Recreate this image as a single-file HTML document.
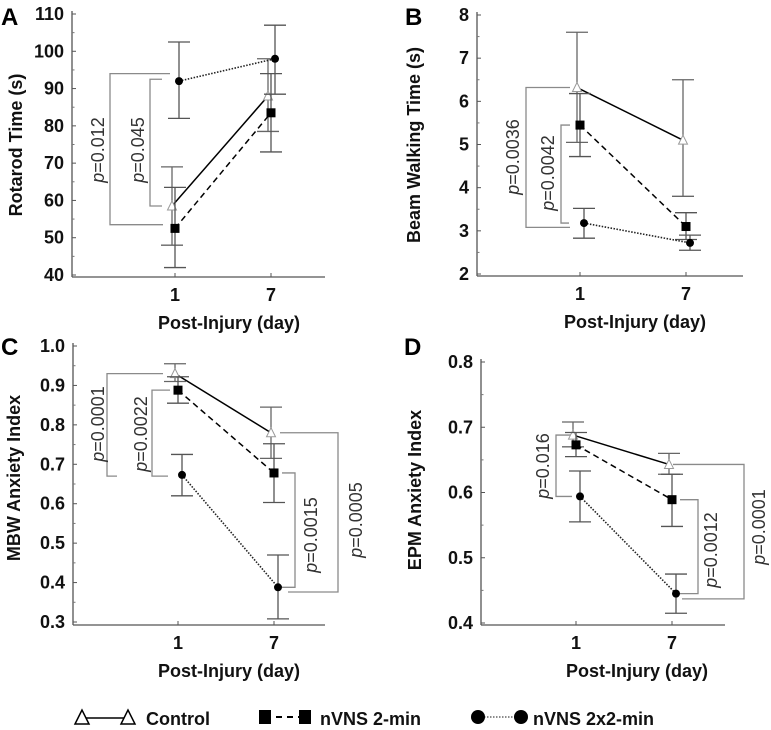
<!DOCTYPE html>
<html><head><meta charset="utf-8"><style>
html,body{margin:0;padding:0;background:#fff;}
svg{display:block;font-family:"Liberation Sans",Arial,sans-serif;}
.tl{font-size:18px;font-weight:bold;fill:#111;}
.at{font-size:18px;font-weight:bold;fill:#111;}
.pl{font-size:18px;fill:#333;}
.pn{font-size:24px;font-weight:bold;fill:#000;}
</style></head><body>
<svg id="fig" width="771" height="730" viewBox="0 0 771 730" xmlns="http://www.w3.org/2000/svg">
<g id="legend">
  <g>
    <line x1="82" y1="718" x2="128" y2="718" stroke="#000" stroke-width="1.5"/>
    <polygon points="82,710 75,724 89,724" fill="#fff" stroke="#000" stroke-width="1.5"/>
    <polygon points="128,710 121,724 135,724" fill="#fff" stroke="#000" stroke-width="1.5"/>
    <text x="146" y="725" class="at">Control</text>
  </g>
  <g>
    <line x1="265" y1="717" x2="305" y2="717" stroke="#000" stroke-width="2" stroke-dasharray="6,5"/>
    <rect x="259" y="710" width="12" height="14" fill="#000"/>
    <rect x="299" y="710" width="12" height="14" fill="#000"/>
    <text x="320" y="725" class="at">nVNS 2-min</text>
  </g>
  <g>
    <line x1="478" y1="717" x2="521" y2="717" stroke="#666" stroke-width="1.5" stroke-dasharray="1.5,1.5"/>
    <circle cx="478" cy="717" r="7" fill="#000"/>
    <circle cx="521" cy="717" r="7" fill="#000"/>
    <text x="533" y="725" class="at">nVNS 2x2-min</text>
  </g>
</g>
</svg>
<script>
// ---- Panel A: Rotarod ----
const aTicks = [40,50,60,70,80,90,100,110];
const aControl = [58.5, 88];
const aControlErr = [[48,69],[78.5,98]];
const aN2 = [52.5, 83.5];
const aN2Err = [[42,63.5],[73,94]];
const aN22 = [92, 98];
const aN22Err = [[82,102.5],[88.5,107]];
// ---- Panel B: Beam walking ----
const bTicks = [2,3,4,5,6,7,8];
const bControl = [6.32, 5.1];
const bControlErr = [[5.05,7.6],[3.8,6.5]];
const bN2 = [5.45, 3.1];
const bN2Err = [[4.72,6.18],[2.8,3.42]];
const bN22 = [3.18, 2.72];
const bN22Err = [[2.83,3.52],[2.55,2.9]];
// ---- Panel C: MBW ----
const cTicks = [0.3,0.4,0.5,0.6,0.7,0.8,0.9,1.0];
const cControl = [0.93, 0.78];
const cControlErr = [[0.91,0.955],[0.715,0.845]];
const cN2 = [0.888, 0.678];
const cN2Err = [[0.855,0.922],[0.603,0.752]];
const cN22 = [0.673, 0.388];
const cN22Err = [[0.62,0.725],[0.308,0.47]];
// ---- Panel D: EPM ----
const dTicks = [0.4,0.5,0.6,0.7,0.8];
const dControl = [0.688, 0.643];
const dControlErr = [[0.67,0.708],[0.628,0.66]];
const dN2 = [0.673, 0.589];
const dN2Err = [[0.655,0.692],[0.548,0.628]];
const dN22 = [0.594, 0.445];
const dN22Err = [[0.555,0.633],[0.415,0.475]];
const xCats = ["1","7"];

const NS="http://www.w3.org/2000/svg";
const fig=document.getElementById('fig');
function mk(tag,attrs,parent){const e=document.createElementNS(NS,tag);for(const k in attrs)e.setAttribute(k,attrs[k]);(parent||fig).appendChild(e);return e;}

function panel(cfg){
  const g=mk('g',{});
  
  
  const t=cfg.ticks, lo=t[0], hi=t[t.length-1];
  const y=v=>cfg.yTop+(hi-v)/(hi-lo)*(cfg.yBot-cfg.yTop);
  const xd=[cfg.x1,cfg.x7];
  const ya=mk('line',{x1:cfg.ax,y1:cfg.yTop-3,x2:cfg.ax,y2:cfg.xAxisY,stroke:'#555','stroke-width':1.3},g);
  
  
  const xa=mk('line',{x1:cfg.ax,y1:cfg.xAxisY,x2:cfg.xr,y2:cfg.xAxisY,stroke:'#555','stroke-width':1.3},g);
  
  
  t.forEach((v,i)=>{
    mk('line',{x1:cfg.ax,y1:y(v),x2:cfg.ax+4,y2:y(v),stroke:'#555','stroke-width':1},g);
    if(i<t.length-1){const m=(v+t[i+1])/2;mk('line',{x1:cfg.ax,y1:y(m),x2:cfg.ax+2.5,y2:y(m),stroke:'#777','stroke-width':1},g);}
    const tx=mk('text',{x:cfg.ax-8,y:y(v)+6,'text-anchor':'end',class:'tl'},g);
    tx.textContent=cfg.fmt(v);
    
    
  });
  xCats.forEach((c,i)=>{
    mk('line',{x1:xd[i],y1:cfg.xAxisY,x2:xd[i],y2:cfg.xAxisY-4,stroke:'#555'},g);
    const tx=mk('text',{x:xd[i],y:cfg.xAxisY+24,'text-anchor':'middle',class:'tl'},g);
    tx.textContent=c;
    
    
  });
  const xt=mk('text',{x:cfg.xtx,y:cfg.xAxisY+52,'text-anchor':'middle',class:'at'},g);
  xt.textContent='Post-Injury (day)';
  
  
  const yt=mk('text',{x:0,y:0,'text-anchor':'middle',class:'at',transform:`translate(${cfg.ytx},${cfg.yty}) rotate(-90)`},g);
  yt.textContent=cfg.ytitle;
  
  
  const pl=mk('text',{x:cfg.plx,y:cfg.ply,class:'pn'},g);
  pl.textContent=cfg.id.toUpperCase();
  
  
  cfg.brackets.forEach(b=>{
    const bg=mk('g',{},g);
    
    
    mk('polyline',{points:`${b.e1},${y(b.v1)} ${b.vx},${y(b.v1)} ${b.vx},${y(b.v2)} ${b.e2},${y(b.v2)}`,fill:'none',stroke:'#8a8a8a','stroke-width':1.3},bg);
    const tx=mk('text',{x:0,y:0,'text-anchor':'middle',class:'pl',transform:`translate(${b.lx},${b.ly}) rotate(-90)`},bg);
    const ti=mk('tspan',{'font-style':'italic'},tx);ti.textContent='p';
    const tr=mk('tspan',{},tx);tr.textContent='='+b.label;
  });
  const series=[
    {name:'control',vals:cfg.c,err:cfg.ce,off:-3,dash:null,col:'#000',mark:'tri',ecol:'#666'},
    {name:'nvns-2min',vals:cfg.n2,err:cfg.n2e,off:0,dash:'6,4',col:'#000',mark:'sq',ecol:'#555'},
    {name:'nvns-2x2min',vals:cfg.n22,err:cfg.n22e,off:4,dash:'1.5,1.5',col:'#222',mark:'ci',ecol:'#555'}
  ];
  series.forEach(s=>{
    const sg=mk('g',{},g);
    
    
    const px=i=>xd[i]+s.off;
    s.err.forEach((e,i)=>{
      const eg=mk('g',{stroke:s.ecol,'stroke-width':1.3},sg);
      
      
      mk('line',{x1:px(i),y1:y(e[0]),x2:px(i),y2:y(e[1])},eg);
      mk('line',{x1:px(i)-11,y1:y(e[0]),x2:px(i)+11,y2:y(e[0])},eg);
      mk('line',{x1:px(i)-11,y1:y(e[1]),x2:px(i)+11,y2:y(e[1])},eg);
    });
    const ln=mk('line',{x1:px(0),y1:y(s.vals[0]),x2:px(1),y2:y(s.vals[1]),stroke:s.col,'stroke-width':s.mark==='ci'?1.6:1.5},sg);
    if(s.dash)ln.setAttribute('stroke-dasharray',s.dash);
    
    
    s.vals.forEach((v,i)=>{
      let m;const X=px(i),Y=y(v);
      if(s.mark==='tri')m=mk('polygon',{points:`${X},${Y-5} ${X-4.5},${Y+4} ${X+4.5},${Y+4}`,fill:'#fff',stroke:'#999','stroke-width':1},sg);
      else if(s.mark==='sq')m=mk('rect',{x:X-4.5,y:Y-4.5,width:9,height:9,fill:'#000'},sg);
      else m=mk('circle',{cx:X,cy:Y,r:4,fill:'#000'},sg);
      
      
    });
  });
}

panel({id:'a',ticks:aTicks,fmt:v=>String(v),yTop:14,yBot:275,xAxisY:277,ax:72,xr:325,x1:175,x7:271,
  c:aControl,ce:aControlErr,n2:aN2,n2e:aN2Err,n22:aN22,n22e:aN22Err,
  ytitle:'Rotarod Time (s)',ytx:22,yty:145,xtx:229,plx:1,ply:25,
  brackets:[{v1:94,v2:53.5,vx:110,e1:170,e2:163,label:'0.012',lx:104,ly:150},
            {v1:92.5,v2:58.5,vx:150,e1:162,e2:162,label:'0.045',lx:144,ly:150}]});
panel({id:'b',ticks:bTicks,fmt:v=>String(v),yTop:15,yBot:274,xAxisY:276,ax:477,xr:743,x1:580,x7:686,
  c:bControl,ce:bControlErr,n2:bN2,n2e:bN2Err,n22:bN22,n22e:bN22Err,
  ytitle:'Beam Walking Time (s)',ytx:420,yty:145,xtx:635,plx:405,ply:25,
  brackets:[{v1:6.32,v2:3.08,vx:526,e1:570,e2:570,label:'0.0036',lx:519,ly:157},
            {v1:5.45,v2:3.18,vx:561,e1:570,e2:569,label:'0.0042',lx:554,ly:173}]});
panel({id:'c',ticks:cTicks,fmt:v=>v.toFixed(1),yTop:346,yBot:622,xAxisY:625,ax:73,xr:325,x1:178,x7:274,
  c:cControl,ce:cControlErr,n2:cN2,n2e:cN2Err,n22:cN22,n22e:cN22Err,
  ytitle:'MBW Anxiety Index',ytx:20,yty:478,xtx:229,plx:1,ply:355,
  brackets:[{v1:0.93,v2:0.67,vx:107,e1:163,e2:117,label:'0.0001',lx:104,ly:424},
            {v1:0.888,v2:0.67,vx:152,e1:170,e2:168,label:'0.0022',lx:147,ly:434},
            {v1:0.678,v2:0.388,vx:295,e1:282,e2:282,label:'0.0015',lx:317,ly:535},
            {v1:0.78,v2:0.376,vx:338,e1:280,e2:288,label:'0.0005',lx:362,ly:520}]});
panel({id:'d',ticks:dTicks,fmt:v=>v.toFixed(1),yTop:362,yBot:623,xAxisY:625,ax:481,xr:725,x1:576,x7:672,
  c:dControl,ce:dControlErr,n2:dN2,n2e:dN2Err,n22:dN22,n22e:dN22Err,
  ytitle:'EPM Anxiety Index',ytx:421,yty:490,xtx:637,plx:404,ply:355,
  brackets:[{v1:0.688,v2:0.594,vx:556,e1:572,e2:572,label:'0.016',lx:549,ly:466},
            {v1:0.589,v2:0.445,vx:698,e1:680,e2:680,label:'0.0012',lx:717,ly:550},
            {v1:0.643,v2:0.437,vx:744,e1:673,e2:682,label:'0.0001',lx:765,ly:527}]});
</script>
</body></html>
